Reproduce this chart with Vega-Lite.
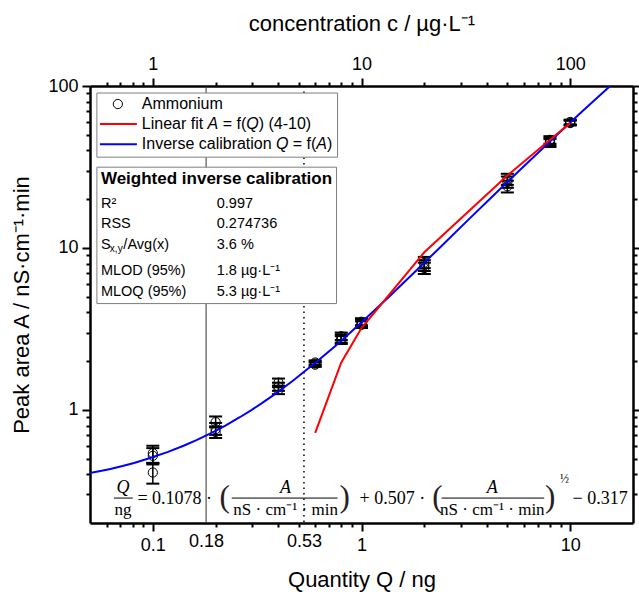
{
  "$schema": "https://vega.github.io/schema/vega-lite/v6.json",
  "width": 543,
  "height": 437,
  "autosize": {"type": "none"},
  "padding": {"left": 90, "top": 86, "right": 6, "bottom": 69},
  "background": "white",
  "config": {
    "view": {"stroke": null},
    "axis": {
      "grid": false, "domainColor": "black", "domainWidth": 2.5,
      "tickColor": "black", "tickWidth": 2,
      "labelFont": "Liberation Sans", "labelFontSize": 18, "labelColor": "black",
      "titleFont": "Liberation Sans", "titleFontSize": 22, "titleFontWeight": "normal", "titleColor": "black",
      "labelOverlap": false, "labelFlush": false, "labelBound": false
    }
  },
  "datasets": {
    "pts": [
      {"Q":0.1,"A":0.54,"lo":0.47,"hi":0.60},
      {"Q":0.1,"A":0.52,"lo":0.46,"hi":0.58},
      {"Q":0.1,"A":0.41,"lo":0.35,"hi":0.47},
      {"Q":0.2,"A":0.84,"lo":0.78,"hi":0.91},
      {"Q":0.2,"A":0.76,"lo":0.70,"hi":0.83},
      {"Q":0.2,"A":0.73,"lo":0.67,"hi":0.79},
      {"Q":0.4,"A":1.47,"lo":1.38,"hi":1.56},
      {"Q":0.4,"A":1.39,"lo":1.31,"hi":1.47},
      {"Q":0.4,"A":1.33,"lo":1.25,"hi":1.41},
      {"Q":0.6,"A":1.96,"lo":1.90,"hi":2.02},
      {"Q":0.6,"A":1.93,"lo":1.87,"hi":1.99},
      {"Q":0.6,"A":1.90,"lo":1.84,"hi":1.96},
      {"Q":0.8,"A":2.85,"lo":2.70,"hi":3.00},
      {"Q":0.8,"A":2.75,"lo":2.60,"hi":2.92},
      {"Q":0.8,"A":2.70,"lo":2.55,"hi":2.85},
      {"Q":1,"A":3.50,"lo":3.33,"hi":3.68},
      {"Q":1,"A":3.41,"lo":3.25,"hi":3.60},
      {"Q":1,"A":3.35,"lo":3.20,"hi":3.52},
      {"Q":2,"A":8.1,"lo":7.5,"hi":8.8},
      {"Q":2,"A":7.8,"lo":7.2,"hi":8.4},
      {"Q":2,"A":7.5,"lo":6.9,"hi":8.1},
      {"Q":5,"A":26.5,"lo":24.5,"hi":28.7},
      {"Q":5,"A":25.5,"lo":23.5,"hi":27.6},
      {"Q":5,"A":24.0,"lo":22.0,"hi":26.0},
      {"Q":8,"A":46.5,"lo":44,"hi":49},
      {"Q":8,"A":45.5,"lo":43,"hi":48},
      {"Q":8,"A":44.5,"lo":42,"hi":47},
      {"Q":10,"A":60,"lo":58,"hi":62},
      {"Q":10,"A":59.5,"lo":57.5,"hi":61.5},
      {"Q":10,"A":59,"lo":57,"hi":61}
    ],
    "inv": [
      {"A":0.4,"Q":0.0468},{"A":0.42,"Q":0.05685},{"A":0.43,"Q":0.06182},{"A":0.45,"Q":0.0716},
      {"A":0.47,"Q":0.08125},{"A":0.5,"Q":0.0954},{"A":0.55,"Q":0.11829},{"A":0.6,"Q":0.1404},
      {"A":0.65,"Q":0.16183},{"A":0.7,"Q":0.1827},{"A":0.75,"Q":0.20293},{"A":0.8,"Q":0.2227},
      {"A":0.9,"Q":0.261},{"A":1.0,"Q":0.298},{"A":1.1,"Q":0.33333},{"A":1.25,"Q":0.3846},
      {"A":1.5,"Q":0.4656},{"A":2,"Q":0.6156},{"A":2.5,"Q":0.75414},{"A":3,"Q":0.8846},{"A":4,"Q":1.1282},
      {"A":5,"Q":1.3557},{"A":7,"Q":1.779},{"A":10,"Q":2.3643},{"A":15,"Q":3.2636},
      {"A":20,"Q":4.1064},{"A":30,"Q":5.694},{"A":50,"Q":8.658},{"A":70,"Q":11.471},{"A":100,"Q":15.533}
    ],
    "lin": [
      {"Q":0.6,"A":0.72},{"Q":0.8,"A":1.96},{"Q":1,"A":3.2},{"Q":2,"A":9.4},
      {"Q":5,"A":28},{"Q":8,"A":46.6},{"Q":10,"A":59}
    ],
    "vsolid": [{"Q":0.18}],
    "vdot": [{"Q":0.53}],
    "boxes": [
      {"Q1":0.05395,"Q2":0.7677,"A1":36.35,"A2":90.5},
      {"Q1":0.05395,"Q2":0.7593,"A1":4.532,"A2":31.52}
    ],
    "legLines": [
      {"Q1":0.05577,"Q2":0.08385,"A":58.17,"series":"lin"},
      {"Q1":0.05577,"Q2":0.08385,"A":43.74,"series":"inv"}
    ],
    "legSym": [{"Q":0.068,"A":77.36}],
    "legText": [
      {"Q":0.08857,"A":77.36,"t":"Ammonium"},
      {"Q":0.08857,"A":58.17,"t":"Linear fit"},
      {"Q":0.2161,"A":58.17,"t":"= f("},
      {"Q":0.32148,"A":58.17,"t":") (4-10)"},
      {"Q":0.08857,"A":43.74,"t":"Inverse calibration"},
      {"Q":0.4684,"A":43.74,"t":"= f("},
      {"Q":0.68296,"A":43.74,"t":")"}
    ],
    "legItal": [
      {"Q":0.18292,"A":58.17,"t":"A"},
      {"Q":0.28022,"A":58.17,"t":"Q"},
      {"Q":0.38904,"A":43.74,"t":"Q"},
      {"Q":0.60717,"A":43.74,"t":"A"}
    ],
    "statHead": [{"Q":0.05641,"A":26.56,"t":"Weighted inverse calibration"}],
    "statText": [
      {"Q":0.05641,"A":18.59,"t":"R²"},
      {"Q":0.05641,"A":13.98,"t":"RSS"},
      {"Q":0.05641,"A":10.36,"t":"S"},
      {"Q":0.07226,"A":10.36,"t":"/Avg(x)"},
      {"Q":0.05641,"A":7.153,"t":"MLOD (95%)"},
      {"Q":0.05641,"A":5.38,"t":"MLOQ (95%)"},
      {"Q":0.2024,"A":18.59,"t":"0.997"},
      {"Q":0.2024,"A":13.98,"t":"0.274736"},
      {"Q":0.2024,"A":10.36,"t":"3.6 %"},
      {"Q":0.2024,"A":7.153,"t":"1.8 µg·L⁻¹"},
      {"Q":0.2024,"A":5.38,"t":"5.3 µg·L⁻¹"}
    ],
    "statSub": [{"Q":0.06225,"A":9.79,"t":"x,y"}],
    "eqItalic": [
      {"Q":0.0719,"A":0.3289,"t":"Q"},
      {"Q":0.4329,"A":0.3289,"t":"A"},
      {"Q":4.235,"A":0.3289,"t":"A"}
    ],
    "eqMain": [
      {"Q":0.1274,"A":0.2811,"t":"= 0.1078 ·"},
      {"Q":1.407,"A":0.2811,"t":"+ 0.507 ·"},
      {"Q":13.92,"A":0.2811,"t":"− 0.317"}
    ],
    "eqDen": [
      {"Q":0.0719,"A":0.2403,"t":"ng"},
      {"Q":0.4329,"A":0.2403,"t":"nS · cm⁻¹ · min"},
      {"Q":4.235,"A":0.2403,"t":"nS · cm⁻¹ · min"}
    ],
    "eqParen": [
      {"Q":0.2211,"A":0.2851,"t":"("},
      {"Q":0.8293,"A":0.2851,"t":")"},
      {"Q":2.31,"A":0.2851,"t":"("},
      {"Q":8.02,"A":0.2851,"t":")"}
    ],
    "eqSup": [{"Q":9.4,"A":0.3738,"t":"½"}],
    "eqBars": [
      {"Q1":0.0651,"Q2":0.0802,"A":0.2851},
      {"Q1":0.2388,"Q2":0.7677,"A":0.2851},
      {"Q1":2.42,"Q2":7.509,"A":0.2851}
    ]
  },
  "resolve": {"axis": {"x": "independent", "y": "independent"}},
  "layer": [
    {
      "data": {"name": "vsolid"},
      "mark": {"type": "rule", "color": "#333333", "strokeWidth": 1},
      "encoding": {
        "x": {"field": "Q", "type": "quantitative", "scale": {"type": "log", "domain": [0.05, 20], "nice": false}, "axis": null}
      }
    },
    {
      "data": {"name": "vdot"},
      "mark": {"type": "rule", "color": "black", "strokeWidth": 1.5, "strokeDash": [1.5, 4]},
      "encoding": {
        "x": {"field": "Q", "type": "quantitative", "scale": {"type": "log", "domain": [0.05, 20], "nice": false}, "axis": null}
      }
    },
    {
      "data": {"name": "boxes"},
      "mark": {"type": "rect", "fill": "white", "stroke": "#7f7f7f", "strokeWidth": 1},
      "encoding": {
        "x": {"field": "Q1", "type": "quantitative", "scale": {"type": "log", "domain": [0.05, 20], "nice": false}, "axis": null},
        "x2": {"field": "Q2"},
        "y": {"field": "A1", "type": "quantitative", "scale": {"type": "log", "domain": [0.2, 100], "nice": false}, "axis": null},
        "y2": {"field": "A2"}
      }
    },
    {
      "data": {"name": "pts"},
      "mark": {"type": "errorbar", "color": "black", "thickness": 1.5, "rule": {"opacity": 1, "color": "black"}, "ticks": {"size": 13, "thickness": 2, "color": "black", "opacity": 1}},
      "encoding": {
        "x": {"field": "Q", "type": "quantitative", "scale": {"type": "log", "domain": [0.05, 20], "nice": false}, "axis": null},
        "y": {"field": "lo", "type": "quantitative", "scale": {"type": "log", "domain": [0.2, 100], "nice": false}, "axis": null},
        "y2": {"field": "hi"}
      }
    },
    {
      "data": {"name": "pts"},
      "mark": {"type": "point", "shape": "circle", "filled": false, "stroke": "black", "strokeWidth": 1, "size": 85, "opacity": 1},
      "encoding": {
        "x": {"field": "Q", "type": "quantitative", "scale": {"type": "log", "domain": [0.05, 20], "nice": false}, "axis": null},
        "y": {"field": "A", "type": "quantitative", "scale": {"type": "log", "domain": [0.2, 100], "nice": false}, "axis": null}
      }
    },
    {
      "data": {"name": "inv"},
      "mark": {"type": "line", "color": "#0000ff", "strokeWidth": 2, "clip": true},
      "encoding": {
        "x": {"field": "Q", "type": "quantitative", "scale": {"type": "log", "domain": [0.05, 20], "nice": false},
          "axis": {
            "orient": "bottom", "title": "Quantity Q / ng", "titlePadding": 15, "labelPadding": 5,
            "values": [0.06,0.07,0.08,0.09,0.1,0.18,0.2,0.3,0.4,0.5,0.53,0.6,0.7,0.8,0.9,1,2,3,4,5,6,7,8,9,10],
            "labelExpr": "datum.value==0.1?'0.1':datum.value==0.18?'0.18':datum.value==0.53?'0.53':datum.value==1?'1':datum.value==10?'10':''",
            "tickSize": {"condition": {"test": "datum.value==0.1||datum.value==1||datum.value==10", "value": 8}, "value": 4},
            "tickOpacity": {"condition": {"test": "datum.value==0.18||datum.value==0.53", "value": 0}, "value": 1}
          }},
        "y": {"field": "A", "type": "quantitative", "scale": {"type": "log", "domain": [0.2, 100], "nice": false},
          "axis": {
            "orient": "left", "title": "Peak area A / nS·cm⁻¹·min", "titlePadding": 14, "labelPadding": 4,
            "values": [0.3,0.4,0.5,0.6,0.7,0.8,0.9,1,2,3,4,5,6,7,8,9,10,20,30,40,50,60,70,80,90,100],
            "labelExpr": "datum.value==1?'1':datum.value==10?'10':datum.value==100?'100':''",
            "tickSize": {"condition": {"test": "datum.value==1||datum.value==10||datum.value==100", "value": 8}, "value": 4}
          }},
        "order": {"field": "A", "type": "quantitative"}
      }
    },
    {
      "data": {"name": "lin"},
      "mark": {"type": "line", "color": "#ff0000", "strokeWidth": 2, "clip": true},
      "encoding": {
        "x": {"field": "Q", "type": "quantitative", "scale": {"type": "log", "domain": [0.05, 20], "nice": false},
          "axis": {
            "orient": "top", "title": "concentration c / µg·L⁻¹", "titlePadding": 20, "labelPadding": 5,
            "values": [0.06,0.07,0.08,0.09,0.1,0.2,0.3,0.4,0.5,0.6,0.7,0.8,0.9,1,2,3,4,5,6,7,8,9,10],
            "labelExpr": "datum.value==0.1?'1':datum.value==1?'10':datum.value==10?'100':''",
            "tickSize": {"condition": {"test": "datum.value==0.1||datum.value==1||datum.value==10", "value": 8}, "value": 4}
          }},
        "y": {"field": "A", "type": "quantitative", "scale": {"type": "log", "domain": [0.2, 100], "nice": false},
          "axis": {
            "orient": "right", "title": null, "labels": false,
            "values": [0.3,0.4,0.5,0.6,0.7,0.8,0.9,1,2,3,4,5,6,7,8,9,10,20,30,40,50,60,70,80,90,100],
            "tickSize": {"condition": {"test": "datum.value==1||datum.value==10||datum.value==100", "value": 8}, "value": 4}
          }},
        "order": {"field": "Q", "type": "quantitative"}
      }
    },
    {
      "data": {"name": "legLines"},
      "mark": {"type": "rule", "strokeWidth": 2},
      "encoding": {
        "x": {"field": "Q1", "type": "quantitative", "scale": {"type": "log", "domain": [0.05, 20], "nice": false}, "axis": null},
        "x2": {"field": "Q2"},
        "y": {"field": "A", "type": "quantitative", "scale": {"type": "log", "domain": [0.2, 100], "nice": false}, "axis": null},
        "color": {"field": "series", "type": "nominal", "scale": {"domain": ["lin", "inv"], "range": ["#ff0000", "#0000ff"]}, "legend": null}
      }
    },
    {
      "data": {"name": "legSym"},
      "mark": {"type": "point", "shape": "circle", "filled": false, "stroke": "black", "strokeWidth": 1, "size": 85, "opacity": 1},
      "encoding": {
        "x": {"field": "Q", "type": "quantitative", "scale": {"type": "log", "domain": [0.05, 20], "nice": false}, "axis": null},
        "y": {"field": "A", "type": "quantitative", "scale": {"type": "log", "domain": [0.2, 100], "nice": false}, "axis": null}
      }
    },
    {
      "data": {"name": "legText"},
      "mark": {"type": "text", "align": "left", "baseline": "middle", "font": "Liberation Sans", "fontSize": 16, "color": "black"},
      "encoding": {
        "x": {"field": "Q", "type": "quantitative", "scale": {"type": "log", "domain": [0.05, 20], "nice": false}, "axis": null},
        "y": {"field": "A", "type": "quantitative", "scale": {"type": "log", "domain": [0.2, 100], "nice": false}, "axis": null},
        "text": {"field": "t"}
      }
    },
    {
      "data": {"name": "legItal"},
      "mark": {"type": "text", "align": "left", "baseline": "middle", "font": "Liberation Sans", "fontSize": 16, "fontStyle": "italic", "color": "black"},
      "encoding": {
        "x": {"field": "Q", "type": "quantitative", "scale": {"type": "log", "domain": [0.05, 20], "nice": false}, "axis": null},
        "y": {"field": "A", "type": "quantitative", "scale": {"type": "log", "domain": [0.2, 100], "nice": false}, "axis": null},
        "text": {"field": "t"}
      }
    },
    {
      "data": {"name": "statHead"},
      "mark": {"type": "text", "align": "left", "baseline": "middle", "font": "Liberation Sans", "fontSize": 17, "fontWeight": "bold", "color": "black"},
      "encoding": {
        "x": {"field": "Q", "type": "quantitative", "scale": {"type": "log", "domain": [0.05, 20], "nice": false}, "axis": null},
        "y": {"field": "A", "type": "quantitative", "scale": {"type": "log", "domain": [0.2, 100], "nice": false}, "axis": null},
        "text": {"field": "t"}
      }
    },
    {
      "data": {"name": "statText"},
      "mark": {"type": "text", "align": "left", "baseline": "middle", "font": "Liberation Sans", "fontSize": 14.5, "color": "black"},
      "encoding": {
        "x": {"field": "Q", "type": "quantitative", "scale": {"type": "log", "domain": [0.05, 20], "nice": false}, "axis": null},
        "y": {"field": "A", "type": "quantitative", "scale": {"type": "log", "domain": [0.2, 100], "nice": false}, "axis": null},
        "text": {"field": "t"}
      }
    },
    {
      "data": {"name": "statSub"},
      "mark": {"type": "text", "align": "left", "baseline": "middle", "font": "Liberation Sans", "fontSize": 10, "color": "black"},
      "encoding": {
        "x": {"field": "Q", "type": "quantitative", "scale": {"type": "log", "domain": [0.05, 20], "nice": false}, "axis": null},
        "y": {"field": "A", "type": "quantitative", "scale": {"type": "log", "domain": [0.2, 100], "nice": false}, "axis": null},
        "text": {"field": "t"}
      }
    },
    {
      "data": {"name": "eqBars"},
      "mark": {"type": "rule", "color": "black", "strokeWidth": 1},
      "encoding": {
        "x": {"field": "Q1", "type": "quantitative", "scale": {"type": "log", "domain": [0.05, 20], "nice": false}, "axis": null},
        "x2": {"field": "Q2"},
        "y": {"field": "A", "type": "quantitative", "scale": {"type": "log", "domain": [0.2, 100], "nice": false}, "axis": null}
      }
    },
    {
      "data": {"name": "eqItalic"},
      "mark": {"type": "text", "align": "center", "baseline": "middle", "font": "Liberation Serif", "fontSize": 18, "fontStyle": "italic", "color": "black"},
      "encoding": {
        "x": {"field": "Q", "type": "quantitative", "scale": {"type": "log", "domain": [0.05, 20], "nice": false}, "axis": null},
        "y": {"field": "A", "type": "quantitative", "scale": {"type": "log", "domain": [0.2, 100], "nice": false}, "axis": null},
        "text": {"field": "t"}
      }
    },
    {
      "data": {"name": "eqMain"},
      "mark": {"type": "text", "align": "center", "baseline": "middle", "font": "Liberation Serif", "fontSize": 18, "color": "black"},
      "encoding": {
        "x": {"field": "Q", "type": "quantitative", "scale": {"type": "log", "domain": [0.05, 20], "nice": false}, "axis": null},
        "y": {"field": "A", "type": "quantitative", "scale": {"type": "log", "domain": [0.2, 100], "nice": false}, "axis": null},
        "text": {"field": "t"}
      }
    },
    {
      "data": {"name": "eqDen"},
      "mark": {"type": "text", "align": "center", "baseline": "middle", "font": "Liberation Serif", "fontSize": 17, "color": "black"},
      "encoding": {
        "x": {"field": "Q", "type": "quantitative", "scale": {"type": "log", "domain": [0.05, 20], "nice": false}, "axis": null},
        "y": {"field": "A", "type": "quantitative", "scale": {"type": "log", "domain": [0.2, 100], "nice": false}, "axis": null},
        "text": {"field": "t"}
      }
    },
    {
      "data": {"name": "eqParen"},
      "mark": {"type": "text", "align": "center", "baseline": "middle", "font": "Liberation Serif", "fontSize": 31, "color": "#222222"},
      "encoding": {
        "x": {"field": "Q", "type": "quantitative", "scale": {"type": "log", "domain": [0.05, 20], "nice": false}, "axis": null},
        "y": {"field": "A", "type": "quantitative", "scale": {"type": "log", "domain": [0.2, 100], "nice": false}, "axis": null},
        "text": {"field": "t"}
      }
    },
    {
      "data": {"name": "eqSup"},
      "mark": {"type": "text", "align": "center", "baseline": "middle", "font": "Liberation Serif", "fontSize": 12, "color": "black"},
      "encoding": {
        "x": {"field": "Q", "type": "quantitative", "scale": {"type": "log", "domain": [0.05, 20], "nice": false}, "axis": null},
        "y": {"field": "A", "type": "quantitative", "scale": {"type": "log", "domain": [0.2, 100], "nice": false}, "axis": null},
        "text": {"field": "t"}
      }
    }
  ]
}
